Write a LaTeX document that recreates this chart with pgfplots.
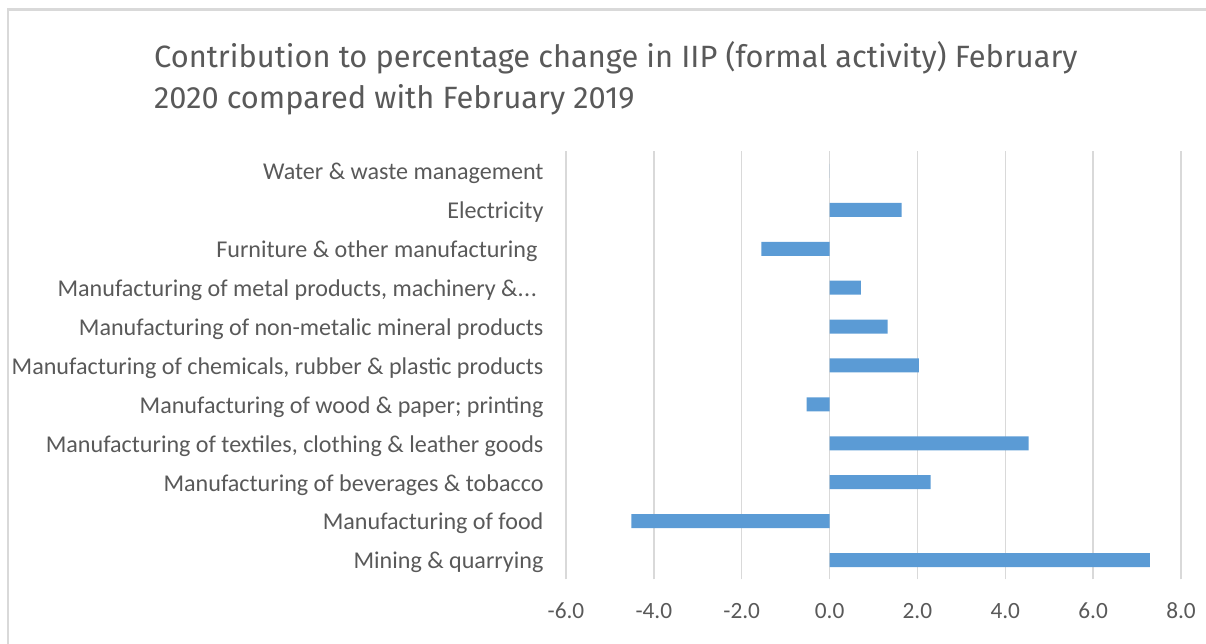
\documentclass[border=0pt]{standalone}
\usepackage{pgfplots}
\pgfplotsset{compat=1.18}
\usepackage{fontspec}
\setmainfont{Carlito}
\newfontfamily\titlefont{Fira Sans}
\definecolor{barblue}{RGB}{91,155,213}
\definecolor{txtgray}{RGB}{89,89,89}
\definecolor{gridgray}{RGB}{217,217,217}
\begin{document}
\begin{tikzpicture}[x=1pt,y=1pt]
\useasboundingbox (0,0) rectangle (1206,644);
\draw[gridgray,line width=2.5pt] (8,0) -- (8,634.5) -- (1206,634.5);
\node[anchor=north west,align=left,text=txtgray,font=\titlefont\fontsize{30.8}{41}\selectfont,inner sep=0pt] at (154,603) {Contribution to percentage change in IIP (formal activity) February\\2020 compared with February 2019};
\begin{axis}[
  at={(566pt,64.5pt)}, anchor=south west,
  scale only axis, width=615pt, height=428pt,
  xmin=-6, xmax=8, ymin=-0.5, ymax=10.5,
  xtick={-6,-4,...,8},
  xticklabel={\pgfmathprintnumber[fixed,fixed zerofill,precision=1]{\tick}},
  /pgf/number format/assume math mode=true,
  ytick={0,...,10},
  yticklabels={{Mining \& quarrying}, {Manufacturing of food}, {Manufacturing of beverages \& tobacco}, {Manufacturing of textiles, clothing \& leather goods}, {Manufacturing of wood \& paper; printing}, {Manufacturing of chemicals, rubber \& plastic products}, {Manufacturing of non-metalic mineral products}, {Manufacturing of metal products, machinery \&{.}\kern0.5pt{.}\kern0.5pt{.}\rule{6.5pt}{0pt}}, {Furniture \& other manufacturing\rule{6pt}{0pt}}, {Electricity}, {Water \& waste management}},
  axis line style={draw=none},
  major tick length=0pt,
  xmajorgrids, major grid style={gridgray,line width=1.5pt},
  ticklabel style={text=txtgray},
  yticklabel style={anchor=east,xshift=-19pt,yshift=-2.5pt,font=\fontsize{24.1}{27}\selectfont},
  xticklabel style={yshift=-20pt,font=\fontsize{23.3}{26}\selectfont},
  xbar, bar width=14pt,
]
\addplot[fill=barblue,draw=none] coordinates {
(7.29,0) (-4.51,1) (2.30,2) (4.53,3) (-0.52,4) (2.03,5) (1.32,6) (0.71,7) (-1.55,8) (1.64,9) (0,10)
};
\end{axis}
\end{tikzpicture}
\end{document}
